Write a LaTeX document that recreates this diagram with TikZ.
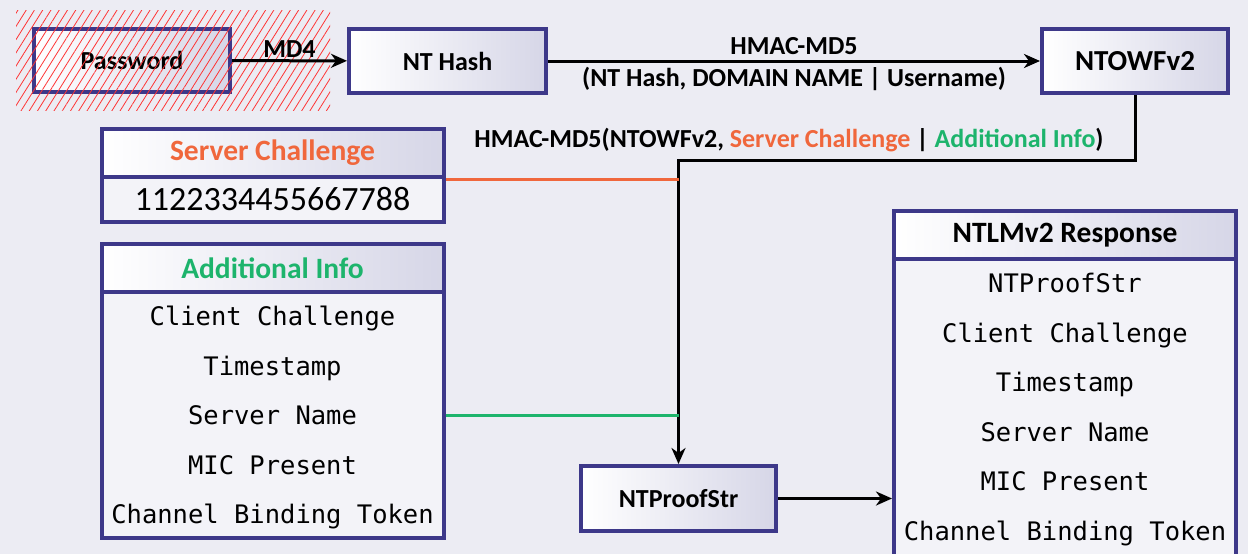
\documentclass[tikz,border=0pt]{standalone}
\usepackage{fontspec}
\setmainfont{Carlito}
\setmonofont{DejaVu Sans Mono}
\usepackage{xcolor}
\usepackage{tikz}
\usetikzlibrary{positioning,arrows.meta,patterns.meta}

\definecolor{frame}{HTML}{3D3889}
\definecolor{boxend}{HTML}{D6D6E7}
\definecolor{backdrop}{HTML}{ECECF3}
\definecolor{rowfill}{HTML}{F3F3F8}
\definecolor{chalorange}{HTML}{F0673C}
\definecolor{infogreen}{HTML}{1DB46C}

\tikzset{
    box/.style={draw=frame, line width=4pt, left color=white, right color=boxend,
        minimum height=64pt, font=\bfseries\fontsize{26}{30}\selectfont},
    head/.style={draw=frame, line width=4pt, left color=white, right color=boxend,
        minimum width=342pt, minimum height=48pt, font=\bfseries\fontsize{29.5}{34}\selectfont},
    body/.style={draw=frame, line width=4pt, fill=rowfill, minimum width=342pt},
    row/.style={font=\ttfamily\fontsize{25.5}{30}\selectfont, text height=0.72em, text depth=0.22em},
    flow/.style={line width=3pt, -{Stealth[length=16pt,width=14pt,inset=5pt]}},
    lbl/.style={font=\bfseries\fontsize{26}{30}\selectfont},
}

\begin{document}
\begin{tikzpicture}[x=1pt, y=-1pt]
    \clip (0,0) rectangle (1248,554);
    \fill[backdrop] (0,0) rectangle (1248,554);

    % Boxes
    \node (pw) [box, minimum width=196pt, minimum height=63pt] at (132,60.5) {Password};
    \node (nthash) [box, minimum width=197pt] at (447.5,61) {NT Hash};
    \node (ntowf) [box, minimum width=186pt, font=\bfseries\fontsize{29}{34}\selectfont] at (1135,61) {NTOWFv2};
    \node (ntproof) [box, minimum width=195pt, minimum height=65pt] at (678.5,498.5) {NTProofStr};

    % Hatching over the password
    \pattern[pattern={Lines[angle=58,distance=7pt,line width=0.8pt]}, pattern color=red!80]
        (16,10) rectangle (330,110);

    % Server Challenge table
    \node (sc-body) [body, minimum height=45pt] at (272.5,199.5)
        {\fontsize{34}{40}\selectfont 1122334455667788};
    \node (sc-head) [head, text=chalorange] at (272.5,153) {Server Challenge};

    % Additional Info table
    \node (ai-body) [body, minimum height=246pt] at (272.5,415) {};
    \node (ai-head) [head, text=infogreen] at (272.5,268) {Additional Info};
    \foreach \txt [count=\i] in {Client Challenge, Timestamp, Server Name, MIC Present, Channel Binding Token}
        \node (ai-\i) [row] at (272.5,{323+49.5*(\i-1)}) {\txt};

    % NTLMv2 Response table
    \node (nt-body) [body, minimum height=320pt] at (1065,419) {};
    \node (nt-head) [head] at (1065,235) {NTLMv2 Response};
    \foreach \txt [count=\i] in {NTProofStr, Client Challenge, Timestamp, Server Name, MIC Present, Channel Binding Token}
        \node (nt-\i) [row] at (1065,{290+49.6*(\i-1)}) {\txt};

    % Connectors
    \draw [flow] (pw) -- node [lbl, above=-2pt] {MD4} (nthash);
    \draw [flow] (nthash) -- node [lbl, above=1pt] {HMAC-MD5}
        node [lbl, below=1pt] {(NT Hash, DOMAIN NAME | Username)} (ntowf);
    \draw [flow] (ntowf.south) -- ++(0,65) -| (ntproof.north);
    \node (proof-lbl) [lbl] at (789,140)
        {HMAC-MD5(NTOWFv2, \textcolor{chalorange}{Server Challenge} | \textcolor{infogreen}{Additional Info})};
    \draw [chalorange, line width=3pt] (sc-head.south east) -- (sc-head.south east -| ntproof.north);
    \draw [infogreen, line width=3pt] (ai-body.east) -- (ai-body.east -| ntproof.north);
    \draw [flow] (ntproof.east) -- (ntproof.east -| nt-body.west);
\end{tikzpicture}
\end{document}
